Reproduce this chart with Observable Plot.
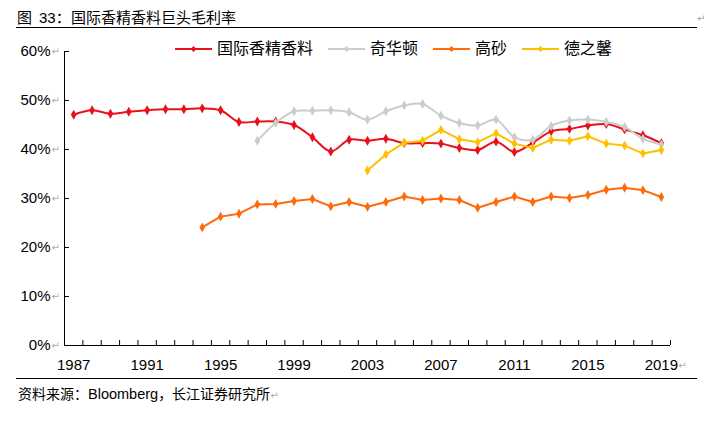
<!DOCTYPE html>
<html>
<head>
<meta charset="utf-8">
<script src="https://cdn.jsdelivr.net/npm/d3@7"></script>
<script src="https://cdn.jsdelivr.net/npm/@observablehq/plot@0.6"></script>
<style>
  html, body { margin: 0; padding: 0; background: #fff; }
  #wrap { position: relative; width: 704px; height: 421px; overflow: hidden;
          font-family: "Liberation Sans", Arial, "Noto Sans CJK SC", sans-serif; color: #000; }
  #chart { position: absolute; left: 0; top: 0; }
  .t { position: absolute; top: 10px; font-size: 15px; line-height: 16px; white-space: pre; }
  .rule { position: absolute; left: 16px; width: 681px; height: 1px; background: #000; }
  .ret { color: #aaa; font-family: "DejaVu Sans", sans-serif; }
  .legend { position: absolute; left: 175px; top: 39px; display: flex; align-items: center; font-size: 16px; line-height: 20px; }
  .item { display: flex; align-items: center; margin-right: 15px; }
  .item svg { margin-right: 5px; }
  .footer { position: absolute; left: 18px; top: 386px; font-size: 14px; line-height: 16px; white-space: pre; }
</style>
</head>
<body>
<div id="wrap">
  <div id="chart"></div>
  <div class="t" style="left:17px;">图</div>
  <div class="t" style="left:39px;">33：</div>
  <div class="t" style="left:71px;">国际香精香料巨头毛利率</div>
  <div class="ret" style="position:absolute;left:697px;top:11px;font-size:10px;line-height:16px;">↵</div>
  <div class="rule" style="top:27px;"></div>
  <div class="legend" id="legend"></div>
  <div class="rule" style="top:378px;"></div>
  <div class="footer">资料来源：<span style="font-size:14.5px;">Bloomberg</span>，长江证券研究所<span class="ret" style="font-size:10px;">↵</span></div>
</div>
<script>
// ---- data ----
const years = d3.range(1987, 2020); // 1987 ... 2019
const seriesNames = ["国际香精香料", "奇华顿", "高砂", "德之馨"];
const seriesColors = ["#E8101A", "#CCCCCC", "#FF6A0D", "#FFC000"];
const seriesCurves = ["catmull-rom", "catmull-rom", "linear", "linear"];

// 国际香精香料 (IFF) 1987-2019
const iff = [47.1, 48.0, 47.3, 47.7, 48.0, 48.2, 48.2, 48.4, 48.0, 45.6,
             45.7, 45.7, 45.0, 42.5, 39.6, 42.0, 41.8, 42.2, 41.3, 41.3,
             41.2, 40.3, 39.9, 41.6, 39.5, 41.4, 43.7, 44.2, 44.9, 45.2,
             44.1, 42.9, 41.3];
// 奇华顿 (Givaudan) 1997-2019
const givaudan = [null, null, null, null, null, null, null, null, null, null,
                  41.8, 45.4, 47.8, 47.9, 48.0, 47.6, 46.1, 47.8, 49.0, 49.3,
                  46.9, 45.4, 44.9, 46.1, 42.5, 42.0, 44.8, 45.9, 46.1, 45.6,
                  44.6, 42.2, 41.0];
// 高砂 (Takasago) 1994-2019
const takasago = [null, null, null, null, null, null, null, 24.1, 26.3, 26.9,
                  28.8, 28.9, 29.5, 29.9, 28.4, 29.3, 28.3, 29.3, 30.4, 29.7,
                  30.0, 29.7, 28.1, 29.3, 30.4, 29.3, 30.4, 30.1, 30.7, 31.8,
                  32.2, 31.7, 30.3];
// 德之馨 (Symrise) 2003-2019
const symrise = [null, null, null, null, null, null, null, null, null, null,
                 null, null, null, null, null, null, 35.7, 39.0, 41.4, 41.8,
                 44.0, 42.1, 41.5, 43.3, 41.2, 40.3, 42.0, 41.8, 42.7, 41.2,
                 40.8, 39.2, 39.9];

const yTicks = [0, 10, 20, 30, 40, 50, 60];
const xLabelYears = [1987, 1991, 1995, 1999, 2003, 2007, 2011, 2015, 2019];

// ---- build table ----
const valueArrays = [iff, givaudan, takasago, symrise];
const rows = [];
valueArrays.forEach((arr, s) => {
  arr.forEach((v, i) => {
    if (v != null) rows.push({series: seriesNames[s], year: years[i], value: v});
  });
});
const bounds = years.map(y => y - 0.5).concat([years[years.length - 1] + 0.5]);
const xDomain = [bounds[0], bounds[bounds.length - 1]];

const lineMarks = seriesNames.map((name, s) => [
  Plot.line(rows.filter(d => d.series === name), {
    x: "year", y: "value", stroke: seriesColors[s], strokeWidth: 2, curve: seriesCurves[s]
  }),
  Plot.dot(rows.filter(d => d.series === name), {
    x: "year", y: "value", fill: seriesColors[s], symbol: "diamond", r: 3, stroke: "none"
  })
]);

const chart = Plot.plot({
  width: 704,
  height: 421,
  marginTop: 51,
  marginBottom: 76,
  marginLeft: 64,
  marginRight: 34,
  style: { fontFamily: "'Liberation Sans', Arial, sans-serif", fontSize: "15px", background: "transparent", color: "#000" },
  x: { domain: xDomain, axis: null, label: null },
  y: { domain: [0, 60], axis: null, label: null },
  marks: [
    Plot.axisY({ ticks: yTicks, tickSize: -5, tickPadding: 19, tickFormat: d => d + "%", fontSize: 15, stroke: "#000", label: null }),
    Plot.text(yTicks, { y: d => d, frameAnchor: "left", dx: -13, text: () => "↵", textAnchor: "start",
                        fill: "#aaa", fontSize: 10, fontFamily: "DejaVu Sans" }),
    Plot.axisX({ ticks: bounds, tickSize: -5, tickFormat: () => "", stroke: "#000", label: null }),
    Plot.axisX({ ticks: xLabelYears, tickSize: 0, tickPadding: 13.5, tickFormat: d => String(d), fontSize: 15, label: null }),
    Plot.text([years[years.length - 1]], { x: d => d, frameAnchor: "bottom", dy: 20, dx: 17, text: () => "↵",
                        textAnchor: "start", lineAnchor: "middle", fill: "#aaa", fontSize: 10, fontFamily: "DejaVu Sans" }),
    Plot.ruleX([xDomain[0]], { stroke: "#000" }),
    Plot.ruleY([0], { stroke: "#000" }),
    ...lineMarks.flat()
  ]
});
document.getElementById("chart").appendChild(chart);

// ---- legend ----
const legend = document.getElementById("legend");
seriesNames.forEach((name, s) => {
  const item = document.createElement("div");
  item.className = "item";
  item.innerHTML =
    `<svg width="37" height="10"><line x1="0" y1="5" x2="37" y2="5" stroke="${seriesColors[s]}" stroke-width="2"/>` +
    `<path d="M18.5,2L21.5,5L18.5,8L15.5,5Z" fill="${seriesColors[s]}"/></svg><span>${name}</span>`;
  legend.appendChild(item);
});
</script>
</body>
</html>
